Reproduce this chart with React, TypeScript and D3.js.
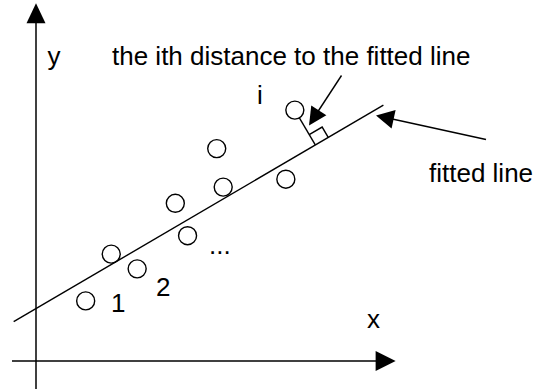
import React from "react";
import * as d3 from "d3";

// data points (data units)
const pointX = [1.38, 2.81, 2.09, 4.21, 3.87, 5.2, 5.02, 6.94, 7.19];
const pointY = [1.67, 2.56, 2.97, 3.48, 4.38, 4.83, 5.9, 5.05, 6.97];
const pointLabels = ["1", "2", "", "", "", "", "", "", "i"];
// fitted line: y = intercept + slope * x
const fitIntercept = [1.455];
const fitSlope = [0.586];
const fitRange = [-0.62, 9.65];
const axisLabels = ["x", "y"];
const titleText = "the ith distance to the fitted line";
const lineLabel = "fitted line";
const ellipsis = "...";

const W = 533;
const H = 389;
const FONT = "'Liberation Sans', Arial, Helvetica, sans-serif";

const xScale = d3.scaleLinear().domain([0, 10]).range([36, 396]);
const yScale = d3.scaleLinear().domain([0, 10]).range([361, 1]);

function arrowHead(tipX: number, tipY: number, fromX: number, fromY: number, len: number, half: number) {
  const dx = tipX - fromX;
  const dy = tipY - fromY;
  const L = Math.hypot(dx, dy);
  const ux = dx / L;
  const uy = dy / L;
  const bx = tipX - ux * len;
  const by = tipY - uy * len;
  const nx = -uy;
  const ny = ux;
  return `M${tipX},${tipY}L${bx + nx * half},${by + ny * half}L${bx - nx * half},${by - ny * half}Z`;
}

export default function App() {
  const fy = (x: number) => fitIntercept[0] + fitSlope[0] * x;
  const line = d3
    .line<number>()
    .x((d) => xScale(d))
    .y((d) => yScale(fy(d)));

  // perpendicular from point i to fitted line
  const iIdx = pointLabels.indexOf("i");
  const px = xScale(pointX[iIdx]);
  const py = yScale(pointY[iIdx]);
  const p0x = xScale(fitRange[0]);
  const p0y = yScale(fy(fitRange[0]));
  const p1x = xScale(fitRange[1]);
  const p1y = yScale(fy(fitRange[1]));
  const Ld = Math.hypot(p1x - p0x, p1y - p0y);
  const ux = (p1x - p0x) / Ld;
  const uy = (p1y - p0y) / Ld;
  const t = (px - p0x) * ux + (py - p0y) * uy;
  const footX = p0x + t * ux;
  const footY = p0y + t * uy;
  const nLen = Math.hypot(px - footX, py - footY);
  const nx = (px - footX) / nLen;
  const ny = (py - footY) / nLen;
  const r = 9;
  const segStartX = px - nx * r;
  const segStartY = py - ny * r;
  const sqA = 15;
  const sqB = 12;
  const sq = `M${footX + nx * sqB},${footY + ny * sqB}L${footX + nx * sqB + ux * sqA},${footY + ny * sqB + uy * sqA}L${footX + ux * sqA},${footY + uy * sqA}`;

  const xAxisY = yScale(0);
  const yAxisX = xScale(0);
  const xTip = xScale(9.99);
  const yTip = yScale(9.94);

  const textStyle = { fontFamily: FONT, fontSize: 26, fill: "#000" };

  return (
    <svg width={W} height={H} style={{ position: "absolute", left: 0, top: 0, background: "#fff" }}>
      <rect width={W} height={H} fill="#fff" />
      {/* axes */}
      <line x1={12} y1={xAxisY} x2={xTip - 10} y2={xAxisY} stroke="#000" strokeWidth={1.5} />
      <path d={arrowHead(xTip, xAxisY, 0, xAxisY, 20, 10)} fill="#000" />
      <line x1={yAxisX} y1={H} x2={yAxisX} y2={yTip + 10} stroke="#000" strokeWidth={1.5} />
      <path d={arrowHead(yAxisX, yTip, yAxisX, H, 20, 9.5)} fill="#000" />

      {/* fitted line */}
      <path d={line(fitRange) || ""} fill="none" stroke="#000" strokeWidth={1.4} />

      {/* points */}
      {pointX.map((x, k) => (
        <circle key={k} cx={xScale(x)} cy={yScale(pointY[k])} r={r} fill="none" stroke="#000" strokeWidth={1.4} />
      ))}

      {/* distance segment & right angle mark */}
      <line x1={segStartX} y1={segStartY} x2={footX} y2={footY} stroke="#000" strokeWidth={1.4} />
      <path d={sq} fill="none" stroke="#000" strokeWidth={1.4} />

      {/* pointer arrows */}
      <line x1={341.5} y1={75.5} x2={316} y2={114.5} stroke="#000" strokeWidth={1.4} />
      <path d={arrowHead(309, 125.5, 341.5, 75.5, 18, 9)} fill="#000" />
      <line x1={486} y1={139.5} x2={390} y2={118.5} stroke="#000" strokeWidth={1.4} />
      <path d={arrowHead(376, 115.5, 486, 139.5, 18, 9.5)} fill="#000" />

      {/* texts */}
      <text x={47.5} y={65} style={textStyle}>{axisLabels[1]}</text>
      <text x={112} y={65} style={textStyle}>{titleText}</text>
      <text x={257} y={104} style={textStyle}>{pointLabels[8]}</text>
      <text x={429} y={182} style={textStyle}>{lineLabel}</text>
      <text x={111} y={312} style={textStyle}>{pointLabels[0]}</text>
      <text x={156} y={296} style={textStyle}>{pointLabels[1]}</text>
      <text x={209} y={254} style={textStyle}>{ellipsis}</text>
      <text x={367} y={328} style={textStyle}>{axisLabels[0]}</text>
    </svg>
  );
}
